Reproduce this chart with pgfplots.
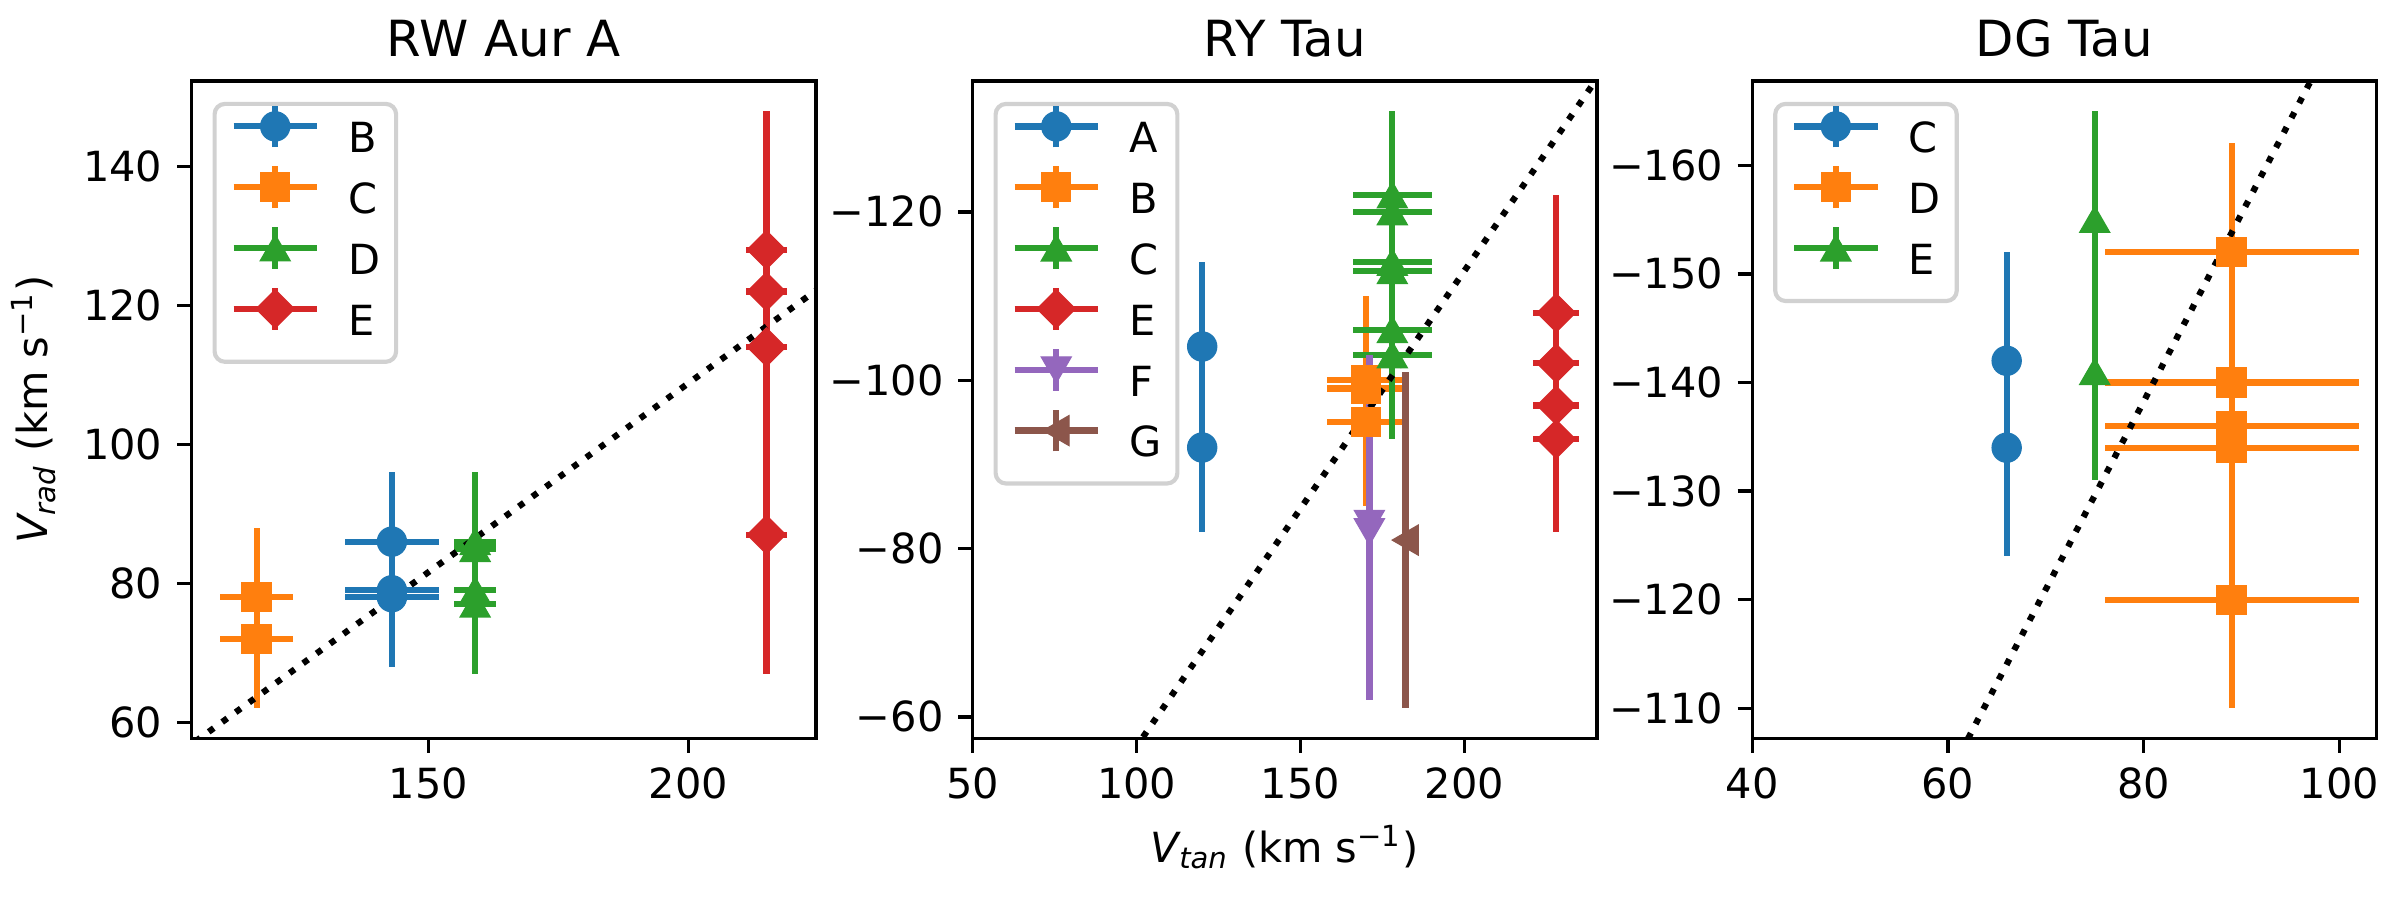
\documentclass[border=0pt]{standalone}
\usepackage{fontspec}
\setmainfont{DejaVu Sans}
\usepackage{pgfplots}
\pgfplotsset{compat=1.18}
\definecolor{c0}{HTML}{1F77B4}
\definecolor{c1}{HTML}{FF7F0E}
\definecolor{c2}{HTML}{2CA02C}
\definecolor{c3}{HTML}{D62728}
\definecolor{c4}{HTML}{9467BD}
\definecolor{c5}{HTML}{8C564B}
\pgfplotsset{
  panel/.style={
    scale only axis, width=149.8bp, height=157.75bp, anchor=south west,
    axis line style={line width=0.8bp},
    tick style={line width=0.8bp, black},
    major tick length=3.5bp,
    tick align=outside, tick pos=left,
    tick label style={font=\fontsize{10}{12}\selectfont},
    /pgf/number format/assume math mode=true,
    title style={at={(0.5,1)}, anchor=base, inner sep=0pt, font=\fontsize{12}{14}\selectfont},
    label style={font=\fontsize{10}{12}\selectfont},
    legend cell align=left,
    legend style={at={(0,1)}, anchor=north west, xshift=5bp, yshift=-5bp,
      draw=black!18, line width=1bp, rounded corners=2.5bp, fill=white,
      inner xsep=3.8bp, inner ysep=4.4bp, font=\fontsize{10}{12}\selectfont,
      row sep=5.3bp,
      nodes={inner sep=0pt, text height=7.3bp, text depth=2bp},
      /tikz/every odd column/.append style={column sep=6.8bp}},
  },
  errplot/.style={only marks, mark options={line width=0.3bp},
    error bars/x dir=both, error bars/x explicit, error bars/y dir=both, error bars/y explicit,
    error bars/error mark=none, error bars/error bar style={line width=1.5bp, solid, sharp corners}},
  errleg/.style={legend image code/.code={
    \draw[##1, sharp corners, line width=1.5bp] (0bp,3.65bp) -- (20bp,3.65bp);
    \draw[##1, sharp corners, line width=1.5bp, overlay] (10bp,-1.35bp) -- (10bp,8.65bp);
    \draw[##1, sharp corners, overlay] plot coordinates {(10bp,3.65bp)};
  }},
  mcirc/.style={mark=*, mark size=3.5bp},
  msq/.style={mark=square*, mark size=3.5bp},
  mtri/.style={mark=triangle*, mark size=4.15bp, mark options={line width=0.3bp, yshift=-1bp}},
  mdia/.style={mark=square*, mark size=3.25bp, mark options={line width=0.3bp, rotate=45}},
  mtrid/.style={mark=triangle*, mark size=4.15bp, mark options={line width=0.3bp, rotate=180, yshift=-1bp}},
  mtril/.style={mark=triangle*, mark size=4.15bp, mark options={line width=0.3bp, rotate=90, yshift=-1bp}},
  dotline/.style={black, line width=1.5bp, dash pattern=on 1.5bp off 2.5bp, forget plot},
}
\begin{document}
\begin{tikzpicture}
\path[use as bounding box] (0,0) rectangle (576bp,216bp);
% ---------------- Panel 1 ----------------
\begin{axis}[panel, at={(46bp,38.81bp)}, title={RW Aur A},
  xmin=104.5, xmax=224.5, ymin=57.7, ymax=152.3,
  xtick={150,200}, ytick={60,80,100,120,140},
  ylabel={{\itshape V\textsubscript{rad}} (km s\textsuperscript{−1})},
  ylabel style={at={(axis description cs:-0.253,0.5)}, anchor=center}]
\addplot[errplot, c0, mcirc, errleg] table[x=x,y=y,x error=ex,y error=ey,row sep=\\] {
x y ex ey\\ 143 86 9 10\\ 143 79 9 10\\ 143 78 9 10\\};
\addlegendentry{B}
\addplot[errplot, c1, msq, errleg] table[x=x,y=y,x error=ex,y error=ey,row sep=\\] {
x y ex ey\\ 117 78 7 10\\ 117 72 7 10\\};
\addlegendentry{C}
\addplot[errplot, c2, mtri, errleg] table[x=x,y=y,x error=ex,y error=ey,row sep=\\] {
x y ex ey\\ 159 86 4 10\\ 159 85 4 10\\ 159 79 4 10\\ 159 77 4 10\\};
\addlegendentry{D}
\addplot[errplot, c3, mdia, errleg] table[x=x,y=y,x error=ex,y error=ey,row sep=\\] {
x y ex ey\\ 215 128 4 20\\ 215 122 4 20\\ 215 114 4 20\\ 215 87 4 20\\};
\addlegendentry{E}
\addplot[dotline] coordinates {(100,54.4) (230,125.12)};
\end{axis}
% ---------------- Panel 2 ----------------
\begin{axis}[panel, at={(233.45bp,38.81bp)}, title={RY Tau},
  xmin=50, xmax=240.4, ymin=-135.55, ymax=-57.45, y dir=reverse,
  xtick={50,100,150,200}, ytick={-120,-100,-80,-60},
  yticklabels={−120,−100,−80,−60},
  xlabel={{\itshape V\textsubscript{tan}} (km s\textsuperscript{−1})},
  xlabel style={at={(axis description cs:0.5,0)}, anchor=base, yshift=-29.7bp, inner sep=0pt}]
\addplot[errplot, c0, mcirc, errleg] table[x=x,y=y,x error=ex,y error=ey,row sep=\\] {
x y ex ey\\ 120 -104 0 10\\ 120 -92 0 10\\};
\addlegendentry{A}
\addplot[errplot, c1, msq, errleg] table[x=x,y=y,x error=ex,y error=ey,row sep=\\] {
x y ex ey\\ 170 -100 12 10\\ 170 -99 12 10\\ 170 -95 12 10\\};
\addlegendentry{B}
\addplot[errplot, c2, mtri, errleg] table[x=x,y=y,x error=ex,y error=ey,row sep=\\] {
x y ex ey\\ 178 -122 12 10\\ 178 -120 12 10\\ 178 -114 12 10\\ 178 -113 12 10\\ 178 -106 12 10\\ 178 -103 12 10\\};
\addlegendentry{C}
\addplot[errplot, c3, mdia, errleg] table[x=x,y=y,x error=ex,y error=ey,row sep=\\] {
x y ex ey\\ 228 -108 7 14\\ 228 -102 7 12\\ 228 -97 7 12\\ 228 -93 7 11\\};
\addlegendentry{E}
\addplot[errplot, c4, mtrid, errleg] table[x=x,y=y,x error=ex,y error=ey,row sep=\\] {
x y ex ey\\ 171 -83 0 20\\ 171 -82 0 20\\};
\addlegendentry{F}
\addplot[errplot, c5, mtril, errleg] table[x=x,y=y,x error=ex,y error=ey,row sep=\\] {
x y ex ey\\ 182 -81 0 20\\};
\addlegendentry{G}
\addplot[dotline] coordinates {(50,-28.25) (250,-141.25)};
\end{axis}
% ---------------- Panel 3 ----------------
\begin{axis}[panel, at={(420.55bp,38.81bp)}, title={DG Tau},
  xmin=40, xmax=103.8, ymin=-167.75, ymax=-107.25, y dir=reverse,
  xtick={40,60,80,100}, ytick={-160,-150,-140,-130,-120,-110},
  yticklabels={−160,−150,−140,−130,−120,−110}]
\addplot[errplot, c0, mcirc, errleg] table[x=x,y=y,x error=ex,y error=ey,row sep=\\] {
x y ex ey\\ 66 -142 0 10\\ 66 -134 0 10\\};
\addlegendentry{C}
\addplot[errplot, c1, msq, errleg] table[x=x,y=y,x error=ex,y error=ey,row sep=\\] {
x y ex ey\\ 89 -152 13 10\\ 89 -140 13 10\\ 89 -136 13 10\\ 89 -134 13 10\\ 89 -120 13 10\\};
\addlegendentry{D}
\addplot[errplot, c2, mtri, errleg] table[x=x,y=y,x error=ex,y error=ey,row sep=\\] {
x y ex ey\\ 75 -155 0 10\\ 75 -141 0 10\\};
\addlegendentry{E}
\addplot[dotline] coordinates {(40,-69.12) (110,-190.08)};
\end{axis}
\end{tikzpicture}
\end{document}
